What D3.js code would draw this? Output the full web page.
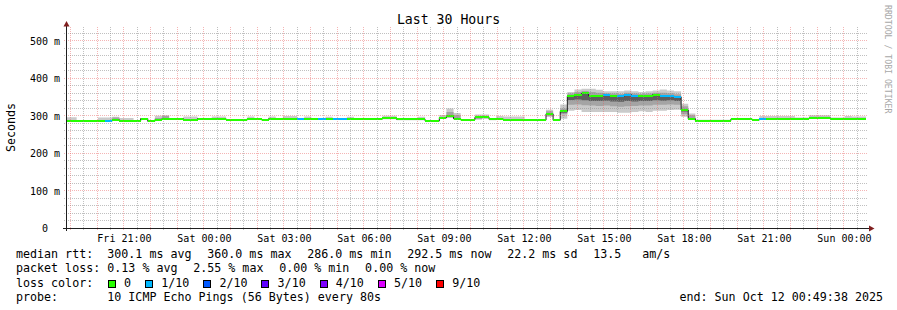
<!DOCTYPE html>
<html><head><meta charset="utf-8">
<script src="https://cdn.jsdelivr.net/npm/d3@7/dist/d3.min.js"></script>
<style>
html,body{margin:0;padding:0;background:#fff;}
svg{display:block;}
text{font-family:"DejaVu Sans Mono",monospace;fill:#000;white-space:pre;}
</style></head><body>
<svg id="chart" width="897" height="310"></svg>
<script>
// ---------- data (16-minute consolidated steps, oldest first) ----------
const median = [
287,287,287,287,287,287,287,290,287,287,
287,293,286,290,293,293,293,290,290,293,
293,293,293,290,290,290,293,293,290,293,
293,291.5,291.5,292,292,292,292,292,292,292,
292,292,292,292,292,293.5,293.5,291,291,291,
291,287,287,295.5,299.5,293,290,290,296,296,
291,292,290,290,290,289,289,289,305.6,288.8,
312.4,353.6,356.3,360.0,353.6,353.6,355.5,353.6,352.8,356.8,
353.6,352.8,353.6,356.8,353.6,353.6,351.0,316.0,292.5,287.5,
287.5,287.5,287.5,287.5,291.4,291.4,291.4,289.6,292.4,293.3,
293.3,293,293,293,293,294,295,295,293,293,
293,291.4,292.5];
const ping10 = [
297,297,289,289,289,296,296,298,295,295,
289,295,288,301,302,295,295,299,299,295,
295,299,299,292,292,292,299,295,292,299,
295,300,300,294,299,294,294,298,294,294,
298,294,294,294,294,301,301,293,293,293,
298,289,289,303,320,308,292,292,304,304,
293,300,299,299,299,292,292,292,317,291,
331,364,371,373,373,370,366,366,366,368,
366,364,366,368,371,368,366,333,307,290,
290,290,290,290,295,295,295,292,300,300,
300,300,300,296,296,302,302,302,296,296,
300,299,299];
const ping9 = [
288,288,288,288,288,288,288,296,288,288,
288,294,287,295,300,294,294,291,291,294,
294,294,294,291,291,291,294,294,291,294,
294,293,293,293,293,293,293,293,293,293,
293,293,293,293,293,296,296,292,292,292,
293,288,288,298,311,302,291,291,300,300,
292,294,292,292,292,290,290,290,313,290,
320,360,364,367,364,362,361,360,359,362,
360,359,360,362,362,361,358,326,302,289,
289,289,289,289,293,293,293,291,294,294,
294,294,294,294,294,298,298,298,294,294,
294,293,294];
const ping7 = [
287,287,287,287,287,287,287,290,287,287,
287,293,286,290,293,293,293,290,290,293,
293,293,293,290,290,290,293,293,290,293,
293,291.5,291.5,292,292,292,292,292,292,292,
292,292,292,292,292,293.5,293.5,291,291,291,
291,287,287,296,301,295,290,290,297,297,
291,292,290,290,290,289,289,289,307,289,
314,356,358,362,356,356,358,356,355,359,
356,355,356,359,356,356,353,318,295,287.5,
287.5,287.5,287.5,287.5,291.4,291.4,291.4,289.6,292.4,293.3,
293.3,293,293,293,293,294,295,295,293,293,
293,291.4,292.5];
const ping4 = [
287,287,287,287,287,287,287,290,287,287,
287,293,286,290,293,293,293,290,290,293,
293,293,293,290,290,290,293,293,290,293,
293,291.5,291.5,292,292,292,292,292,292,292,
292,292,292,292,292,293.5,293.5,291,291,291,
291,287,287,295,299,293,290,290,295,295,
291,292,290,290,290,289,289,289,304,288.8,
309,343,344,342,340,340,341,339,338,340,
339,340,340,342,341,342,340,312,292,287.5,
287.5,287.5,287.5,287.5,291.4,291.4,291.4,289.6,292.4,293.3,
293.3,293,293,293,293,294,295,295,293,293,
293,291.4,292.5];
const ping2 = [
286,286,286,286,286,286,286,289,286,286,
286,292,285,289,292,292,292,289,289,292,
292,292,292,289,289,289,292,292,289,292,
292,290.5,290.5,291,291,291,291,291,291,291,
291,291,291,291,291,292.5,292.5,290,290,290,
290,286,286,294,297,292,289,289,292,294,
290,291,289,289,289,288,288,288,300,288,
305,330,331,329,328,327,328,326,325,326,
327,328,328,330,330,331,330,305,291,286.5,
286.5,286.5,286.5,286.5,290.4,290.4,290.4,288.6,291.4,292.3,
292.3,292,292,292,292,293,294,294,292,292,
292,290.4,291.5];
const ping1 = [
285,285,285,285,285,285,285,288,285,285,
285,291,284,288,291,291,291,288,288,291,
291,291,291,288,288,288,291,291,288,291,
291,289.5,289.5,290,290,290,290,290,290,290,
290,290,290,290,290,291.5,291.5,289,289,289,
289,285,285,293,295,291,288,288,290,293,
289,290,288,288,288,287,287,287,297.6,287,
293,314,316,311,311,311,311,311,309,309,
311,313,311,314,314,316,317,298,290,285.5,
285.5,285.5,285.5,285.5,289.4,289.4,289.4,287.6,290.4,291.3,
291.3,291,291,291,291,292,293,293,291,291,
291,289.4,290.5];
const lossPct = [
0,0,0,0,0,0,0.9,0,0,0,
0,0,0,0,0,0,0,0,0,0,
0,0,0,0,0,0,0,0,0,0,
0,0,0,0.8,0,0,1.2,0,1.0,0.9,
0,0,0,0,0,0,0,0,0,0,
0,0,0,0,0,0,0,0,0,0,
0,0,0,0,0,0,0,0,0,0,
0,0,0,0,0,0,2.55,0,1.1,1.3,
1.0,0,0,0,1.2,1.5,1.0,0,0,0,
0,0,0,0,0,0,0,0,0.9,0,
0,0,0,0,0,0,0,0,0,0,
0,0,0];
const lossLabels = ["0","1/10","2/10","3/10","4/10","5/10","9/10"];
const lossLimits = [0,1,2,3,4,5,9];
const lossColors = ["#26ff00","#00b8ff","#0059ff","#5e00ff","#7e00ff","#dd00ff","#ff0000"];
const yTickValues = [0,100,200,300,400,500];
const yTickLabels = ["0  ","100 m","200 m","300 m","400 m","500 m"];
const xTickLabels = ["Fri 21:00","Sat 00:00","Sat 03:00","Sat 06:00","Sat 09:00","Sat 12:00","Sat 15:00","Sat 18:00","Sat 21:00","Sun 00:00"];
const rttStats = ["300.1 ms avg","360.0 ms max","286.0 ms min","292.5 ms now","22.2 ms sd","13.5   am/s"];
const lossStats = ["0.13 % avg","2.55 % max","0.00 % min","0.00 % now"];
const titleText = "Last 30 Hours";
const probeText = "10 ICMP Echo Pings (56 Bytes) every 80s";
const endText = "end: Sun Oct 12 00:49:38 2025";
const yAxisTitle = "Seconds";
const watermark = "RRDTOOL / TOBI OETIKER";

// ---------- layout ----------
const svg = d3.select("#chart");
const endTime = new Date(2025, 9, 12, 0, 49, 38);
const startTime = d3.timeHour.offset(endTime, -30);
const STEP = 16;
const N = median.length;
const bStart = i => d3.timeMinute.offset(endTime, -(N - i) * STEP);
const X0 = 66, X1 = 866, YB = 228.5, YT = 28.5;
const x = d3.scaleTime().domain([startTime, endTime]).range([X0, X1]);
const y = d3.scaleLinear().domain([0, 533.333]).range([YB, YT]);

svg.append("rect").attr("width",897).attr("height",310).attr("fill","#fff");
svg.append("defs").append("clipPath").attr("id","clip")
  .append("rect").attr("x",X0).attr("y",YT-1).attr("width",X1-X0).attr("height",YB-YT+1);

const plot = svg.append("g").attr("clip-path","url(#clip)");
const pts = d3.range(N + 1);
const v = (arr, i) => arr[Math.min(i, N - 1)];
function band(lo, hi, col) {
  const a = d3.area().curve(d3.curveStepAfter)
    .x(i => x(bStart(i))).y0(i => y(v(lo, i))).y1(i => y(v(hi, i)));
  plot.append("path").attr("d", a(pts)).attr("fill", col);
}
band(ping1, ping10, "#cacaca");
band(ping2, ping9, "#a4a4a4");
band(ping4, ping7, "#5e5e5e");

const ln = d3.line().curve(d3.curveStepAfter).x(i => x(bStart(i))).y(i => y(v(median, i)));
plot.append("path").attr("d", ln(pts)).attr("fill","none").attr("stroke","#202020").attr("stroke-width",1);

const lossCat = p => { const lost = p / 100 * 10; return lossLimits.findIndex(l => lost <= l); };
plot.selectAll("rect.med").data(d3.range(N)).join("rect").attr("class","med")
  .attr("x", i => x(bStart(i))).attr("width", i => x(bStart(i + 1)) - x(bStart(i)))
  .attr("y", i => y(median[i]) - 1).attr("height", 2)
  .attr("fill", i => lossColors[lossCat(lossPct[i])])
  .attr("shape-rendering","crispEdges");

// ---------- grid (on top of data, like rrdtool) ----------
const grid = svg.append("g").attr("shape-rendering","crispEdges").attr("stroke-dasharray","1,1");
const minorCol = "rgba(140,140,140,0.55)", majorCol = "rgba(230,90,90,0.45)";
d3.range(20, 533, 20).forEach(val => {
  const yy = Math.ceil(y(val)) - 0.5;
  grid.append("line").attr("x1",X0-2).attr("x2",X1+2).attr("y1",yy).attr("y2",yy)
    .attr("stroke", val % 100 === 0 ? majorCol : minorCol);
});
d3.timeMinute.every(30).range(startTime, endTime).forEach(t => {
  const xx = Math.floor(x(t)) + 0.5;
  grid.append("line").attr("x1",xx).attr("x2",xx).attr("y1",YT-2).attr("y2",YB+2)
    .attr("stroke", t.getMinutes() === 0 ? majorCol : minorCol);
});

// ---------- axes ----------
const yAxis = d3.axisLeft(y).tickValues(yTickValues).tickFormat((d, i) => yTickLabels[i]).tickSize(0).tickPadding(0);
const gy = svg.append("g").attr("transform","translate(60,0)").call(yAxis);
gy.select(".domain").remove();
gy.selectAll("text").attr("font-family","DejaVu Sans Mono").attr("font-size","10px").attr("fill","#000")
  .attr("xml:space","preserve");

const xTicks = d3.timeHour.every(3).range(startTime, endTime);
const xAxis = d3.axisBottom(x).tickValues(xTicks).tickFormat((d, i) => xTickLabels[i]).tickSize(0).tickPadding(7);
const gx = svg.append("g").attr("transform","translate(0,228)").call(xAxis);
gx.select(".domain").remove();
gx.selectAll("text").attr("font-family","DejaVu Sans Mono").attr("font-size","10px").attr("fill","#000");

const axisCol = "#1f1f1f", arrowCol = "#801f1f";
svg.append("line").attr("x1",63).attr("x2",870).attr("y1",228.5).attr("y2",228.5).attr("stroke",axisCol);
svg.append("line").attr("x1",66.5).attr("x2",66.5).attr("y1",231).attr("y2",24).attr("stroke",axisCol);
svg.append("path").attr("d","M63.5,26.5L69.5,26.5L66.5,21Z").attr("fill",arrowCol);
svg.append("path").attr("d","M869,225.5L869,231.5L874.5,228.5Z").attr("fill",arrowCol);

// ---------- texts ----------
svg.append("text").attr("x",448.5).attr("y",24).attr("text-anchor","middle").attr("font-size","13.2px").text(titleText);
svg.append("text").attr("transform","translate(14.5,127.5) rotate(-90)").attr("text-anchor","middle")
  .attr("font-size","11.67px").text(yAxisTitle);
svg.append("text").attr("transform","translate(885,5) rotate(90)").attr("font-size","8.2px")
  .style("fill","#a8a8a8").text(watermark);

const CW = 7.02, GAP = 1.7, LX = 16, COL = 107.3;
const rowY = [258, 272.2, 286.5, 300.7];
const lg = svg.append("g").attr("font-size","11.67px");
const t = (xx, yy, s) => lg.append("text").attr("x",xx).attr("y",yy).attr("xml:space","preserve").text(s);
t(LX, rowY[0], "median rtt:");
let cx = COL;
rttStats.forEach(s => { t(cx, rowY[0], s); cx += (s.length + 2) * CW + GAP; });
t(LX, rowY[1], "packet loss:");
cx = COL;
lossStats.forEach(s => { t(cx, rowY[1], s); cx += (s.length + 2) * CW + GAP; });
t(LX, rowY[2], "loss color:");
let bx = 108.3;
lossLabels.forEach((s, i) => {
  lg.append("rect").attr("x",Math.floor(bx)+0.5).attr("y",280.5).attr("width",7).attr("height",7)
    .attr("fill",lossColors[i]).attr("stroke","#000").attr("stroke-width",1);
  const tx = bx + 15.7;
  t(tx, rowY[2], s);
  bx = tx + (s.length + 2) * CW + 0.4;
});
t(LX, rowY[3], "probe:");
t(COL, rowY[3], probeText);
lg.append("text").attr("x",883).attr("y",rowY[3]).attr("text-anchor","end").text(endText);
</script>
</body></html>
